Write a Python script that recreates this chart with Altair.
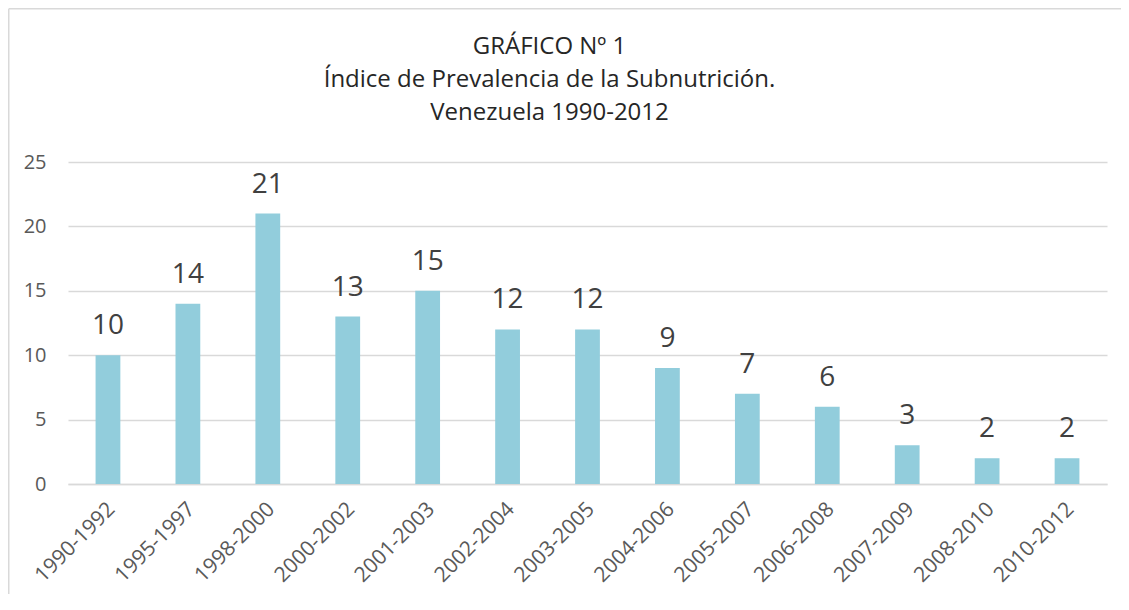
import altair as alt
import pandas as pd

periods = ["1990-1992", "1995-1997", "1998-2000", "2000-2002", "2001-2003", "2002-2004",
           "2003-2005", "2004-2006", "2005-2007", "2006-2008", "2007-2009", "2008-2010", "2010-2012"]
values = [10, 14, 21, 13, 15, 12, 12, 9, 7, 6, 3, 2, 2]
title_lines = ["GRÁFICO  Nº 1", "Índice de Prevalencia de la Subnutrición.", "Venezuela 1990-2012"]

df = pd.DataFrame({"periodo": periods, "valor": values})

FONT = "Open Sans"
GRAY = "#595959"
BORDER = "#D9D9D9"

base = alt.Chart(df).encode(
    x=alt.X("periodo:N", sort=periods, title=None,
            scale=alt.Scale(paddingInner=0.69, paddingOuter=0.345),
            axis=alt.Axis(labelAngle=-45, labelFontSize=21, labelFont=FONT, labelColor=GRAY,
                          ticks=False, domainColor=BORDER, domainWidth=1.5, labelPadding=14,
                          labelOffset=-4)),
    y=alt.Y("valor:Q", title=None,
            scale=alt.Scale(domain=[0, 25]),
            axis=alt.Axis(values=[0, 5, 10, 15, 20, 25], labelFontSize=20, labelFont=FONT,
                          labelColor=GRAY, ticks=False, domain=False, gridColor=BORDER,
                          gridWidth=1.5, labelPadding=22)),
)

bars = base.mark_bar(color="#92CDDC")
labels = base.mark_text(dy=-21, fontSize=28, font=FONT, color="#404040", baseline="alphabetic").encode(
    text="valor:Q")

frame_src = alt.Chart(pd.DataFrame({"a": [0]}))
top_line = frame_src.mark_rule(stroke=BORDER, strokeWidth=1.5).encode(
    x=alt.value(-59.25), x2=alt.value(1053), y=alt.value(-153.25))
left_line = frame_src.mark_rule(stroke=BORDER, strokeWidth=1.5).encode(
    x=alt.value(-59.25), y=alt.value(-153.25), y2=alt.value(432))

chart = alt.layer(top_line, left_line, bars, labels).properties(
    width=1039, height=322,
    autosize=alt.AutoSizeParams(type="none"),
    padding={"left": 60, "top": 154, "right": 14, "bottom": 110},
    title=alt.TitleParams(title_lines, anchor="middle", frame="group", fontSize=24, font=FONT,
                          fontWeight="normal", color="#262626", offset=-117, lineHeight=33, dx=-38),
).configure_view(stroke=None)

chart.save("out.html", embed_options={"renderer": "svg", "actions": False})
